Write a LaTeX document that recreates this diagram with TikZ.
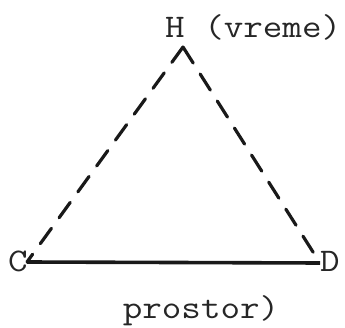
\documentclass[tikz,border=0pt]{standalone}
\usepackage{graphicx}
\begin{document}
\begin{tikzpicture}[x=1pt,y=-1pt,
  lbl/.style={font=\ttfamily\fontsize{33}{33}\selectfont, inner sep=0pt, text=black!85},
  edge/.style={line width=3.6pt, black!90},
  dashedge/.style={line width=3.2pt, black!90, dash pattern=on 19pt off 13pt, line cap=round}]
\useasboundingbox (0,0) rectangle (345,328);
\node[lbl, anchor=base west] (H) at (165,38) {\scalebox{1.15}[1]{H (vreme)}};
\node[lbl, anchor=base] (C) at (18,272) {\scalebox{1.15}[1]{C}};
\node[lbl, anchor=base] (D) at (330,272) {\scalebox{1.15}[1]{D}};
\node[lbl, anchor=base] (P) at (201,319) {\scalebox{1.15}[1]{prostor)}};
\coordinate (apex) at (183,47);
\coordinate (cl) at (27,262);
\coordinate (dr) at (320,263);
\draw[edge] (cl) -- (dr);
\draw[dashedge] (apex) -- (cl);
\draw[dashedge] (apex) -- (dr);
\end{tikzpicture}
\end{document}
